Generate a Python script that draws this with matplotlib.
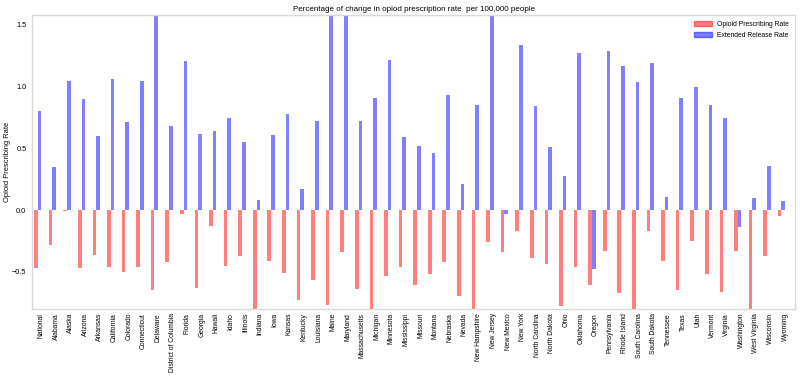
import numpy as np
import matplotlib.pyplot as plt
from matplotlib.patches import Patch

# 州ごとの変化率
states = ['National', 'Alabama', 'Alaska', 'Arizona', 'Arkansas', 'California', 'Colorado',
          'Connecticut', 'Delaware', 'District of Columbia', 'Florida', 'Georgia', 'Hawaii',
          'Idaho', 'Illinois', 'Indiana', 'Iowa', 'Kansas', 'Kentucky', 'Louisiana', 'Maine',
          'Maryland', 'Massachusetts', 'Michigan', 'Minnesota', 'Mississippi', 'Missouri',
          'Montana', 'Nebraska', 'Nevada', 'New Hampshire', 'New Jersey', 'New Mexico',
          'New York', 'North Carolina', 'North Dakota', 'Ohio', 'Oklahoma', 'Oregon',
          'Pennsylvania', 'Rhode Island', 'South Carolina', 'South Dakota', 'Tennessee',
          'Texas', 'Utah', 'Vermont', 'Virginia', 'Washington', 'West Virginia',
          'Wisconsin', 'Wyoming']

prescribing_rate = [-0.47, -0.28, -0.01, -0.47, -0.36, -0.46, -0.50, -0.46, -0.65, -0.42,
                    -0.03, -0.63, -0.13, -0.45, -0.37, -0.86, -0.41, -0.51, -0.73, -0.57,
                    -0.77, -0.34, -0.64, -0.84, -0.53, -0.46, -0.61, -0.52, -0.42, -0.70,
                    -0.83, -0.26, -0.34, -0.17, -0.39, -0.44, -0.78, -0.46, -0.61, -0.33,
                    -0.67, -0.88, -0.17, -0.41, -0.65, -0.25, -0.52, -0.66, -0.33, -0.85,
                    -0.37, -0.05]

extended_rate = [0.80, 0.35, 1.05, 0.90, 0.60, 1.06, 0.71, 1.05, 1.95, 0.68,
                 1.21, 0.62, 0.64, 0.75, 0.55, 0.08, 0.61, 0.78, 0.17, 0.72,
                 1.85, 2.10, 0.72, 0.91, 1.22, 0.59, 0.52, 0.46, 0.93, 0.21,
                 0.85, 1.75, -0.03, 1.34, 0.84, 0.51, 0.28, 1.27, -0.48, 1.29,
                 1.17, 1.04, 1.19, 0.11, 0.91, 1.00, 0.85, 0.75, -0.14, 0.10,
                 0.36, 0.07]

plt.rcParams['font.family'] = ['Liberation Sans', 'DejaVu Sans']

fig = plt.figure(figsize=(8, 3.78), dpi=100)
ax = fig.add_axes([0.04, 0.183, 0.954, 0.777])

ind = np.arange(len(states))
width = 0.25

ax.bar(ind - 0.375, prescribing_rate, width, color='red', alpha=0.5)
ax.bar(ind - 0.125, extended_rate, width, color='blue', alpha=0.5)

ax.set_xlim(-0.65, 51.69)
ax.set_ylim(-0.8, 1.58)
ax.set_xticks(ind)
ax.set_xticklabels(states, rotation=90, fontsize=4.9)
ax.set_yticks([-0.5, 0.0, 0.5, 1.0, 1.5])
ax.tick_params(axis='y', labelsize=5.3, pad=4)
ax.tick_params(axis='x', pad=3)
ax.tick_params(length=0)
ax.set_ylabel('Opioid Prescribing Rate', fontsize=5.4)
ax.yaxis.set_label_coords(-0.0275, 0.5)
ax.set_title('Percentage of change in opiod prescription rate  per 100,000 people', fontsize=5.8, pad=3)

for s in ax.spines.values():
    s.set_color('#d9d9d9')
    s.set_linewidth(1)

handles = [Patch(color='red', alpha=0.5), Patch(color='blue', alpha=0.5)]
ax.legend(handles, ['Opioid Prescribing Rate', 'Extended Release Rate'],
          loc='upper right', frameon=False, fontsize=4.9, handlelength=2.6, handleheight=0.7)

fig.savefig('out.png', dpi=100)
